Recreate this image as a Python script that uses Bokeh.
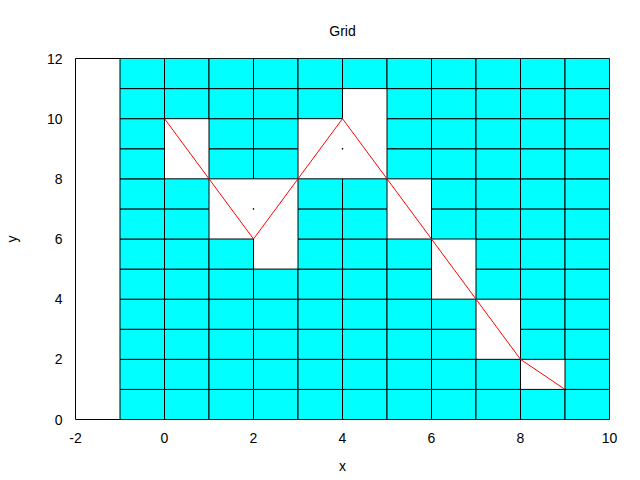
from bokeh.plotting import figure
from bokeh.models import Range1d, ColumnDataSource
from bokeh.embed import file_html
from bokeh.resources import INLINE

# Data
col_left = [-1, 0, 1, 2, 3, 4, 5, 6, 7, 8, 9]
gap_lo = [None, 8, 6, 5, 8, 8, 6, 4, 2, 1, None]
gap_hi = [None, 10, 8, 8, 10, 11, 8, 6, 4, 2, None]
n_rows = 12

line_x = [0, 1, 2, 3, 4, 5, 6, 7, 8, 9]
line_y = [10, 8, 6, 8, 10, 8, 6, 4, 2, 1]

dot_x = [2, 4]
dot_y = [7, 9]

x_ticks = [-2, 0, 2, 4, 6, 8, 10]
y_ticks = [0, 2, 4, 6, 8, 10, 12]

# Build cells
L, R, B, T = [], [], [], []
for c, lo, hi in zip(col_left, gap_lo, gap_hi):
    for r in range(n_rows):
        if lo is not None and lo <= r < hi:
            continue
        L.append(c); R.append(c + 1); B.append(r); T.append(r + 1)
cells = ColumnDataSource(dict(left=L, right=R, bottom=B, top=T))

FONT = "Liberation Sans"
FS = "14px"

p = figure(width=640, height=480, output_backend="svg", toolbar_location=None,
           x_range=Range1d(-2, 10), y_range=Range1d(0, 12),
           title="Grid", min_border_left=75, min_border_right=31,
           min_border_top=58, min_border_bottom=61)

p.quad(left="left", right="right", bottom="bottom", top="top", source=cells,
       fill_color="#00ffff", line_color="black", line_width=1)
p.line(line_x, line_y, line_color="red", line_width=1)
p.scatter(dot_x, dot_y, marker="square", size=1, fill_color="black", line_color="black", line_width=0.5)

p.xgrid.visible = False
p.ygrid.visible = False
p.outline_line_color = "black"
p.outline_line_width = 1
p.background_fill_color = "white"

p.title.align = "center"
p.title.text_font = FONT
p.title.text_font_style = "normal"
p.title.text_font_size = FS
p.title.text_color = "black"
p.title.standoff = 40

for ax, label, ticks in ((p.xaxis[0], "x", x_ticks), (p.yaxis[0], "y", y_ticks)):
    ax.ticker = ticks
    ax.major_label_overrides = {t: str(t) for t in ticks}
    ax.axis_label = label
    ax.axis_line_color = None
    ax.major_tick_line_color = None
    ax.minor_tick_line_color = None
    ax.major_tick_out = 0
    ax.major_tick_in = 0
    ax.minor_tick_out = 0
    ax.major_label_text_font = FONT
    ax.major_label_text_font_size = FS
    ax.major_label_text_color = "black"
    ax.axis_label_text_font = FONT
    ax.axis_label_text_font_size = FS
    ax.axis_label_text_font_style = "normal"
    ax.axis_label_text_color = "black"

p.xaxis[0].major_label_standoff = 13
p.xaxis[0].axis_label_standoff = 12
p.yaxis[0].major_label_standoff = 13
p.yaxis[0].axis_label_standoff = 24

open("out.html", "w").write(file_html(p, INLINE))
